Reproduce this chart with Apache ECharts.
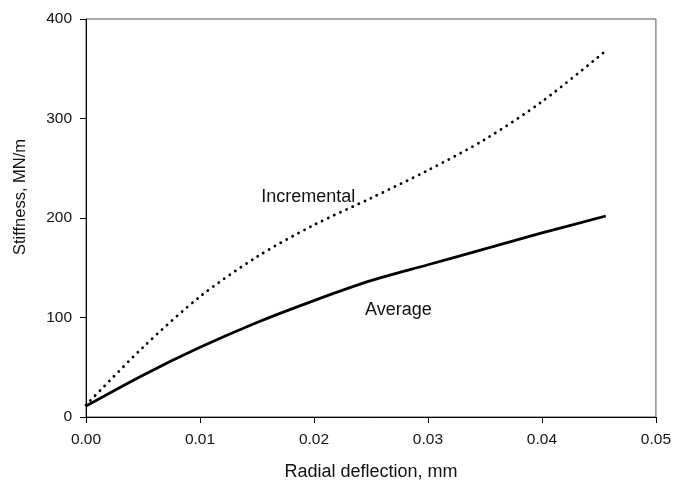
<!DOCTYPE html>
<html>
<head>
<meta charset="utf-8">
<script src="https://cdn.jsdelivr.net/npm/echarts@6/dist/echarts.min.js"></script>
<style>
  html, body { margin: 0; padding: 0; background: #fff; }
  #chart { width: 674px; height: 486px; }
</style>
</head>
<body>
<div id="chart"></div>
<script>
// deflection (mm) sampled along the curves
const deflection = [0, 0.005, 0.01, 0.015, 0.02, 0.025, 0.03, 0.035, 0.04, 0.0456];
// stiffness, MN/m
const incremental = [12, 70, 121, 161, 193, 220, 248, 279, 317, 368];
const average = [11, 42, 70, 95, 117, 137, 153, 169, 185, 202];

const xTicks = [0, 0.01, 0.02, 0.03, 0.04, 0.05];
const yTicks = [0, 100, 200, 300, 400];

// where the curve names sit, in data units
const incrementalLabelAt = [0.0195, 221];
const averageLabelAt = [0.0274, 108];

const textColor = '#111';
const font = 'Liberation Sans, Arial, sans-serif';

const pairs = (ys) => deflection.map((x, i) => [x, ys[i]]);

const curveLabel = (text, at) => ({
  symbol: 'circle',
  symbolSize: 0,
  silent: true,
  label: {
    show: true,
    position: 'inside',
    color: textColor,
    fontFamily: font,
    fontSize: 18,
    formatter: text,
  },
  data: [{ coord: at }],
});

const chart = echarts.init(document.getElementById('chart'));

chart.setOption({
  animation: false,
  backgroundColor: '#fff',
  grid: {
    left: 86,
    right: 13,
    top: 19,
    bottom: 63,
    show: true,
    borderColor: '#555',
    borderWidth: 1,
  },
  xAxis: {
    type: 'value',
    min: xTicks[0],
    max: xTicks[xTicks.length - 1],
    interval: 0.01,
    name: 'Radial deflection, mm',
    nameLocation: 'middle',
    nameGap: 46,
    nameTextStyle: { color: textColor, fontFamily: font, fontSize: 18 },
    axisLine: { lineStyle: { color: '#000', width: 1 } },
    axisTick: { show: true, inside: false, length: 6, lineStyle: { color: '#000' } },
    axisLabel: {
      color: textColor,
      fontFamily: font,
      fontSize: 15.5,
      margin: 15,
      formatter: (v) => v.toFixed(2),
    },
    splitLine: { show: false },
  },
  yAxis: {
    type: 'value',
    min: yTicks[0],
    max: yTicks[yTicks.length - 1],
    interval: 100,
    name: 'Stiffness, MN/m',
    nameLocation: 'middle',
    nameGap: 57,
    nameTextStyle: {
      color: textColor,
      fontFamily: font,
      fontSize: 16.5,
      padding: [0, 0, 0, 42],
    },
    axisLine: { show: true, lineStyle: { color: '#000', width: 1 } },
    axisTick: { show: true, inside: false, length: 6, lineStyle: { color: '#000' } },
    axisLabel: { color: textColor, fontFamily: font, fontSize: 15.5, margin: 14 },
    splitLine: { show: false },
  },
  series: [
    {
      name: 'Incremental',
      type: 'line',
      data: pairs(incremental),
      smooth: 0.3,
      symbol: 'none',
      lineStyle: { color: '#000', width: 2.8, type: [0.1, 6.6], cap: 'round' },
      markPoint: curveLabel('Incremental', incrementalLabelAt),
    },
    {
      name: 'Average',
      type: 'line',
      data: pairs(average),
      smooth: 0.3,
      symbol: 'none',
      lineStyle: { color: '#000', width: 2.8 },
      markPoint: curveLabel('Average', averageLabelAt),
    },
  ],
});
</script>
</body>
</html>
